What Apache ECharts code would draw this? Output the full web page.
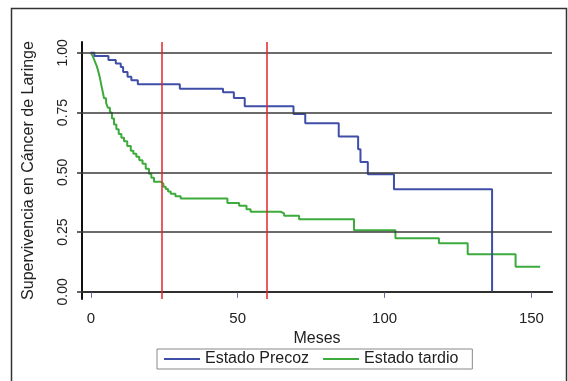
<!DOCTYPE html>
<html>
<head>
<meta charset="utf-8">
<script src="https://cdn.jsdelivr.net/npm/echarts@6/dist/echarts.min.js"></script>
<style>
  html, body { margin: 0; padding: 0; background: #fff; }
  #chart { width: 568px; height: 381px; }
</style>
</head>
<body>
<div id="chart"></div>
<script>
// Kaplan-Meier curves, [months, survival]
var precoz = [
  [0, 1], [1.2, 0.986], [6, 0.97], [8.5, 0.955], [10.2, 0.94], [11, 0.92],
  [12.5, 0.9], [13.8, 0.885], [16, 0.868], [30.3, 0.849], [45, 0.835],
  [48.7, 0.811], [52.4, 0.776], [69, 0.744], [73, 0.705], [84.4, 0.65],
  [91, 0.596], [91.8, 0.543], [94.3, 0.492], [103.2, 0.429], [136.6, 0]
];
var tardio = [
  [0, 1], [0.5, 0.99], [1, 0.975], [1.5, 0.96], [2, 0.945], [2.5, 0.925],
  [3, 0.9], [3.5, 0.87], [4, 0.84], [4.5, 0.81], [5.2, 0.79], [5.8, 0.77],
  [6.5, 0.75], [7.2, 0.725], [7.9, 0.7], [8.7, 0.68], [9.5, 0.66],
  [10.4, 0.645], [11.3, 0.63], [12.4, 0.61], [13.6, 0.59], [14.5, 0.578],
  [15.5, 0.565], [16.5, 0.55], [17.6, 0.536], [18.7, 0.515], [19.8, 0.494],
  [20.6, 0.477], [21.5, 0.46], [23.8, 0.453], [24.7, 0.44], [25.5, 0.43],
  [26.3, 0.42], [27.2, 0.41], [28.8, 0.4], [30.6, 0.39], [46.5, 0.372],
  [50.5, 0.36], [53, 0.345], [54.4, 0.335], [64.6, 0.328], [65.8, 0.318],
  [70.9, 0.304], [89.6, 0.258], [103.7, 0.224], [118.5, 0.203],
  [128.3, 0.157], [144.6, 0.105], [153, 0.105]
];
var cortes = [24, 60];
var yTicks = [0, 0.25, 0.5, 0.75, 1];
var xTicks = [0, 50, 100, 150];

var font = "'Liberation Sans', Arial, sans-serif";
var myChart = echarts.init(document.getElementById("chart"));

var gridLines = [];
for (var i = 0; i < yTicks.length; i++) {
  gridLines.push({ yAxis: yTicks[i] });
}
var redLines = [];
for (var j = 0; j < cortes.length; j++) {
  redLines.push({ xAxis: cortes[j] });
}

myChart.setOption({
  animation: false,
  backgroundColor: "#fff",
  textStyle: { fontFamily: font },
  graphic: [{
    type: "rect",
    shape: { x: 11.5, y: 8.5, width: 555, height: 420 },
    style: { fill: "none", stroke: "#333", lineWidth: 1.5 },
    silent: true
  }],
  grid: { left: 82, right: 16, top: 42, bottom: 82 },
  legend: {
    left: 157, top: 349,
    data: ["Estado Precoz", "Estado tardio"],
    icon: "rect",
    itemWidth: 36, itemHeight: 2, itemGap: 14,
    padding: [2, 14, 2, 7],
    borderColor: "#888", borderWidth: 1,
    textStyle: { fontSize: 16, color: "#222", fontFamily: font }
  },
  xAxis: {
    type: "value",
    min: -3, max: 157,
    name: "Meses", nameLocation: "middle", nameGap: 27,
    nameTextStyle: { fontSize: 16, color: "#222" },
    axisLine: { show: true, lineStyle: { color: "#111", width: 2 } },
    axisTick: { show: true, customValues: xTicks, length: 6, lineStyle: { color: "#6a6aa8", width: 1 } },
    axisLabel: { customValues: xTicks, fontSize: 15, color: "#222", margin: 12 },
    splitLine: { show: false }
  },
  yAxis: {
    type: "value",
    min: -0.03, max: 1.045,
    name: "Supervivencia en Cáncer de Laringe", nameLocation: "middle", nameGap: 45,
    nameTextStyle: { fontSize: 16, color: "#222" },
    axisLine: { show: true, onZero: false, lineStyle: { color: "#111", width: 2 } },
    axisTick: { show: true, customValues: yTicks, length: 5, lineStyle: { color: "#333", width: 1.5 } },
    axisLabel: {
      customValues: yTicks, rotate: 90, fontSize: 14, color: "#222", margin: 12,
      formatter: function (v) { return v.toFixed(2); }
    },
    splitLine: { show: false }
  },
  series: [
    {
      name: "Estado Precoz", type: "line", step: "end",
      data: precoz, symbol: "none",
      lineStyle: { color: "#3f4fa8", width: 2 }, itemStyle: { color: "#3f4fa8" },
      z: 4,
      markLine: {
        silent: true, symbol: "none", label: { show: false },
        lineStyle: { color: "#3a3a3a", width: 1.5, type: "solid" },
        data: gridLines
      }
    },
    {
      name: "Estado tardio", type: "line", step: "end",
      data: tardio, symbol: "none",
      lineStyle: { color: "#3cab3c", width: 2 }, itemStyle: { color: "#3cab3c" },
      z: 3,
      markLine: {
        silent: true, symbol: "none", label: { show: false },
        lineStyle: { color: "#e3262a", width: 1.5, type: "solid" },
        data: redLines
      }
    }
  ]
});
</script>
</body>
</html>
